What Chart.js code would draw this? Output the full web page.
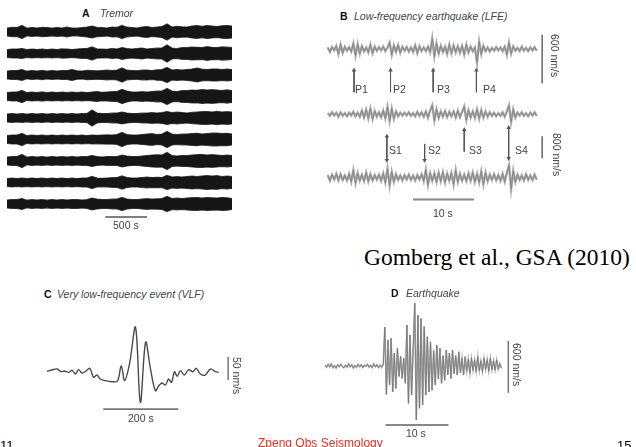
<!DOCTYPE html>
<html><head><meta charset="utf-8">
<script src="https://cdn.jsdelivr.net/npm/chart.js@4.4.0/dist/chart.umd.min.js"></script>
<style>
html,body{margin:0;padding:0;background:#fff;width:636px;height:447px;overflow:hidden;position:relative;font-family:"Liberation Sans",Arial,sans-serif;}
canvas{position:absolute;}
.t{position:absolute;white-space:nowrap;line-height:1;color:#444;font-size:10px;}
.b{font-weight:bold;color:#111;font-style:normal;}
.i{font-style:italic;}
.v{writing-mode:vertical-rl;}
</style></head><body>
<canvas id="cA" width="240" height="210" style="left:0;top:20px"></canvas>
<canvas id="cB" width="240" height="190" style="left:318px;top:25px"></canvas>
<canvas id="cC" width="200" height="105" style="left:40px;top:315px"></canvas>
<canvas id="cD" width="210" height="135" style="left:315px;top:295px"></canvas>
<div id="labels"></div>
<script>
// ---------- DATA ----------
// Panel A: tremor, 9 stations, envelope half-width (relative amplitude), sampled every 60 s
const tremorStep = 60; // s
const tremor1 = [4,4.6,4.5,6.5,3.8,4.4,4,4.6,4.5,3.8,4.4,4,4.8,4,3.8,4.5,5,6,4.6,4.5,4,5,4.6,6.5,4.8,4.5,4,5,5.4,4.5,5,5.5,8,5,5.6,5.2,5,6,6.5,5.6,6.5,6,5.5,6.2,6.5,6];
const tremor2 = [4,4.5,4.5,5,3.8,4.4,4,4.5,3.8,4.5,4,4.6,4.5,3.9,4.5,4.8,5,6.5,4.6,4.5,4.2,5,4.5,6,5,4.4,5,5.4,4.5,5,5.3,5.5,8.5,5.5,5,5.8,6,6.5,6.2,6,6.8,6.2,6,6.6,6.3,6];
const tremor3 = [4,4.5,4.5,5.5,3.8,4.4,4,4.6,3.8,4.4,4,4.5,4.5,5.5,4.2,4,4.6,4.5,4.1,4.5,4.8,4.5,5,7,4.8,4.5,4.2,4.8,5,4.5,5.2,5.5,7.5,5,5.4,5,5.5,6,7,5.8,5.5,5.9,6,5.5,5.8,5.5];
const tremor4 = [4,4.5,4.5,6,3.8,4.4,4,4.6,3.8,4.4,4,4.5,4,4.5,4,4.5,4,4.5,5,4.2,4.5,4.8,5,7,5.5,4.4,4.5,4.8,4.5,5,5.3,5.5,8,5.5,5,5.8,6,6.5,6.2,7,6.5,6.8,6.5,6,6.6,6];
const tremor5 = [4,4.5,4,4.5,3.8,4.4,4,4.5,3.8,4.4,4,4.5,4,4.5,4,4.4,4.5,8,5,4.4,4.5,4.8,5,6,5,4.4,4.5,4.8,5,5.3,5,5.5,6.5,5.5,5.8,5.5,5,5.6,6,6.3,6.5,6,6.6,6,6.3,6];
const tremor6 = [4,4.5,4.5,6,3.8,4.4,4,4.5,3.8,4.4,4,4.5,4,4.4,4,4.5,4,4.5,4.2,4.5,4.6,4.5,5,7,5,4.4,4.5,5,5.5,5.8,5,5.5,8,5.5,5,5.3,5.5,6,6.2,5.5,6,6.3,6.5,6,6.2,5.5];
const tremor7 = [4,4.5,4.5,6.5,3.8,4.4,4,4.5,3.8,4.4,4,4.5,4,4.4,4,4.5,4.5,5.5,4.5,4,4.4,4.5,4.5,6,5,4.4,4.5,5,5.5,6,6.2,6,8.5,5.5,5,5.4,5.5,6,6.3,6.5,6,6.3,6,5.5,5.8,5.5];
const tremor8 = [4,4.5,4,4.5,3.8,4.4,4,4.5,3.8,4.4,4,4.5,4,4.5,4,4.4,4.5,6,4.5,4.2,4.5,4.8,5,6.5,5,4.4,4.5,5,5.3,5,5.2,5,7,5.5,5.8,5.5,6,6.5,6,6.5,7,6.5,6.8,6,6.5,6];
const tremor9 = [4,4.5,4.5,5.5,3.8,4.4,4,4.5,3.8,4.4,4,4.5,4,4.4,4.5,4,4.5,6,5,4.4,4.5,4.8,5,6.5,5,4.4,4.5,5,5.3,5,5.2,5.5,7.5,5.5,5.8,5.5,6,6.3,6.5,6,6.5,6.2,6,6.5,6.2,5.5];

// Panel B: LFE, velocity (nm/s), sampled every 0.35 s
const lfeStep = 0.35; // s
const lfeP = [20,-35,25,-15,40,-60,55,-45,30,-20,25,-30,70,-80,60,-55,35,-30,20,-40,55,-50,30,-20,25,-15,30,-25,20,80,-70,45,-35,50,-45,30,-20,25,-30,20,-35,45,-50,35,-25,20,-25,30,-40,130,-90,70,-55,40,-35,30,-60,55,-50,45,-40,35,-45,40,-65,55,-40,30,-25,20,-165,90,-60,40,-25,20,-30,15,-20,25,-15,20,-25,30,-70,80,-55,35,-20,15,-25,30,-20,15,-25,20,-15,25,-20];
const lfeS1 = [15,-20,25,-15,20,-30,25,-20,15,-25,20,-15,30,-25,20,-30,45,-40,55,-50,70,-60,40,-30,25,-35,45,-50,90,-85,70,-55,35,-25,20,-15,20,-15,25,-20,15,-25,30,-20,25,-30,35,-40,45,110,-75,60,-45,35,-30,40,-35,30,-25,35,-40,45,-35,30,95,-70,50,-40,35,-45,60,-55,50,-40,35,-30,25,-20,20,-25,15,-20,25,-30,35,110,-95,60,-40,20,-15,25,-20,15,-25,20,-15,25,-20];
const lfeS2 = [30,-40,35,-25,45,-35,40,-30,25,-35,45,-50,90,-70,55,-40,35,-45,60,-50,40,-35,30,-25,35,-40,50,-60,110,-100,70,-55,40,-30,25,-35,30,-25,35,-30,25,-35,30,-25,40,-45,95,-90,55,-40,50,-55,60,-45,65,-60,50,-40,55,-85,90,-55,45,-40,35,-45,50,-40,60,-55,45,-60,75,-85,60,-45,35,-30,40,-35,30,-40,45,-50,60,150,-140,80,-55,35,-30,25,-35,40,-30,25,-30,35,-25];
const pArrivals = [4.3, 10.3, 17.3, 24.4]; // s
const sArrivals = [9.7, 15.9, 22.4, 29.7]; // s

// Panel C: VLF event, time (s) and velocity (nm/s)
const vlfTime = [0,13,27,37,46,58,67,76,84,93,102,114,124,133,142,156,173,188,198,207,220,236,249,263,276,289,298,307,316,324,332,340,347,356,366,378,389,398,409,422,436,449,458];
const vlfVel  = [5.8,8.7,10.9,5,6.5,3.6,8,0,9.4,2.2,5,12.3,-7.3,-2.2,-10.9,-14.5,-16.7,-15.2,18,-14.5,21.8,101.5,-61.6,68.9,10.9,-36.3,-25.4,-19.6,-23.9,-10.9,-18.1,5,-5,7.3,-2.2,9.4,5,12.3,0,-2.2,10.9,5,3.6];

// Panel D: local earthquake, velocity (nm/s), sampled every 0.25 s
const eqStep = 0.25; // s
const eqVel = [10,-15,20,-10,25,-20,5,-25,15,-10,20,-5,-20,10,-15,25,-10,15,-25,5,-15,20,-10,15,-20,10,-5,20,-15,10,-20,25,-10,15,-20,10,-15,20,
  450,-330,300,-220,320,-300,150,-260,205,-120,110,-143,90,-200,476,-433,360,-337,200,727,-627,590,-490,550,-450,457,-337,340,-300,280,-280,180,-220,240,-150,205,-200,120,-165,185,-100,150,-143,185,-90,120,-105,165,-80,90,-105,108,-60,80,-85,90,-50,70,-65,108,-55,60,-65,90,-40,75,-58,90,-45,60,-46,70,-35,30,-27];

// Scale bar lengths (labels)
const barA = 500, barB_t = 10, barB1 = 600, barB2 = 800, barC_t = 200, barC = 50, barD_t = 10, barD = 600;

// ---------- HELPERS ----------
function series(values, step, offset){ return values.map((v,i)=>({x:i*step, y:v+offset})); }
function pairs(ts, vs, offset){ return ts.map((t,i)=>({x:t, y:vs[i]+offset})); }
function seg(x1,y1,x2,y2,color,w,extra){ return Object.assign({data:[{x:x1,y:y1},{x:x2,y:y2}],borderColor:color,borderWidth:w,pointRadius:0,fill:false}, extra||{}); }
function mk(id, xr, yr, datasets){
  return new Chart(document.getElementById(id), {type:'line', data:{datasets},
    options:{animation:false,responsive:false,maintainAspectRatio:false,events:[],layout:{padding:0},
      plugins:{legend:{display:false},tooltip:{enabled:false},title:{display:false}},
      scales:{x:{type:'linear',display:false,min:xr[0],max:xr[1]},y:{type:'linear',display:false,min:yr[0],max:yr[1]}},
      elements:{point:{radius:0},line:{tension:0}}}});
}

// ---------- PANEL A ----------
const tremors = [tremor1,tremor2,tremor3,tremor4,tremor5,tremor6,tremor7,tremor8,tremor9];
const dsA = [];
tremors.forEach((env,k)=>{
  const off = -21.5*k;
  dsA.push({data:env.map((v,i)=>({x:i*tremorStep,y:off+v})),borderColor:'rgba(20,20,20,0.75)',borderWidth:1.2,backgroundColor:'#161616',fill:'+1',pointRadius:0});
  dsA.push({data:env.map((v,i)=>({x:i*tremorStep,y:off-v})),borderColor:'rgba(20,20,20,0.75)',borderWidth:1.2,fill:false,pointRadius:0});
});
dsA.push(seg(1180,-185,1180+barA,-185,'#555',1.5));
mk('cA',[-84,2796],[-198,12],dsA);

// ---------- PANEL B ----------
const dsB = [];
const offB = [0,-800,-1576];
[lfeP,lfeS1,lfeS2].forEach((tr,k)=>{
  dsB.push({data:series(tr,lfeStep,offB[k]),borderColor:'rgba(150,150,150,0.8)',borderWidth:2.4,fill:false,pointRadius:0});
  dsB.push({data:series(tr,lfeStep,offB[k]),borderColor:'#2a2a2a',borderWidth:0.8,fill:false,pointRadius:0});
});
function arrow(t,yTop,yBot,headTop,headBot){
  return {data:[{x:t,y:yTop},{x:t,y:yBot}],borderColor:'#555',borderWidth:1,fill:false,
    pointRadius:[headTop?2.6:0,headBot?2.6:0],pointStyle:'triangle',pointRotation:[0,180],
    pointBackgroundColor:'#555',pointBorderColor:'#555',pointBorderWidth:0};
}
pArrivals.forEach(t=>dsB.push(arrow(t,-259,-529,true,false)));
dsB.push(arrow(sArrivals[0],-1070,-1364,true,true));
dsB.push(arrow(sArrivals[1],-1164,-1364,false,true));
dsB.push(arrow(sArrivals[2],-988,-1258,true,false));
dsB.push(arrow(sArrivals[3],-964,-1341,true,true));
dsB.push(seg(35.2,176,35.2,176-barB1*0.998,'#666',1.5));
dsB.push(seg(35.2,-1070,35.2,-1341,'#666',1.5));
dsB.push(seg(14,-1846,14+barB_t,-1846,'#888',2));
mk('cB',[-0.952,37.14],[-1987,247],dsB);

// ---------- PANEL C ----------
const dsC = [
  {data:pairs(vlfTime,vlfVel,0),borderColor:'#4a4a4a',borderWidth:1.4,fill:false,pointRadius:0,tension:0.35},
  seg(150,-76,150+barC_t,-76,'#777',1.8),
  seg(483,37,483,37-barC,'#555',1.2)
];
mk('cC',[-18.7,514.7],[-99.8,128],dsC);

// ---------- PANEL D ----------
const dsD = [
  {data:series(eqVel,eqStep,0),borderColor:'rgba(140,140,140,0.7)',borderWidth:1.6,fill:false,pointRadius:0},
  {data:series(eqVel,eqStep,0),borderColor:'#333',borderWidth:0.7,fill:false,pointRadius:0},
  seg(9.6,-684,9.6+barD_t,-684,'#888',2),
  seg(29.1,290,29.1,290-barD,'#777',1.5)
];
mk('cD',[-1.587,31.75],[-742.4,823.6],dsD);

// ---------- TEXT ----------
const L = [
  ['A',82,8,'b',10.5],['Tremor',100,8,'i',10.5],['500 s',113,220,'',10.5],
  ['B',340,11,'b',10.5],['Low-frequency earthquake (LFE)',354,11,'i',10.5],
  ['600 nm/s',549,34,'v',10.5],
  ['P1',355,84,'',10.5],['P2',393,84,'',10.5],['P3',437,84,'',10.5],['P4',483,84,'',10.5],
  ['S1',389,145,'',10.5],['S2',428,145,'',10.5],['S3',469,145,'',10.5],['S4',515,145,'',10.5],
  ['800 nm/s',551,133,'v',10.5],['10 s',433,208,'',10.5],
  ['C',44,289,'b',10.5],['Very low-frequency event (VLF)',57,289,'i',10.5],
  ['50 nm/s',231,357,'v',10.5],['200 s',128,413,'',10.5],
  ['D',391,288,'b',10.5],['Earthquake',406,288,'i',10.5],
  ['600 nm/s',511,343,'v',10.5],['10 s',406,428,'',10.5]
];
let h='';
L.forEach(([s,x,y,c,f])=>{ h+=`<div class="t ${c}" style="left:${x}px;top:${y}px;font-size:${f}px">${s}</div>`; });
h+=`<div class="t" style="left:364px;top:246px;font-size:23.5px;color:#000;font-family:'Liberation Serif','Times New Roman',serif">Gomberg et al., GSA (2010)</div>`;
h+=`<div class="t" style="left:0px;top:439px;font-size:13px;color:#000">11</div>`;
h+=`<div class="t" style="left:258px;top:437px;font-size:12px;color:#e8321e">Zpeng Obs Seismology</div>`;
h+=`<div class="t" style="left:617px;top:439px;font-size:13px;color:#000">15</div>`;
document.getElementById('labels').innerHTML=h;
</script>
</body></html>
